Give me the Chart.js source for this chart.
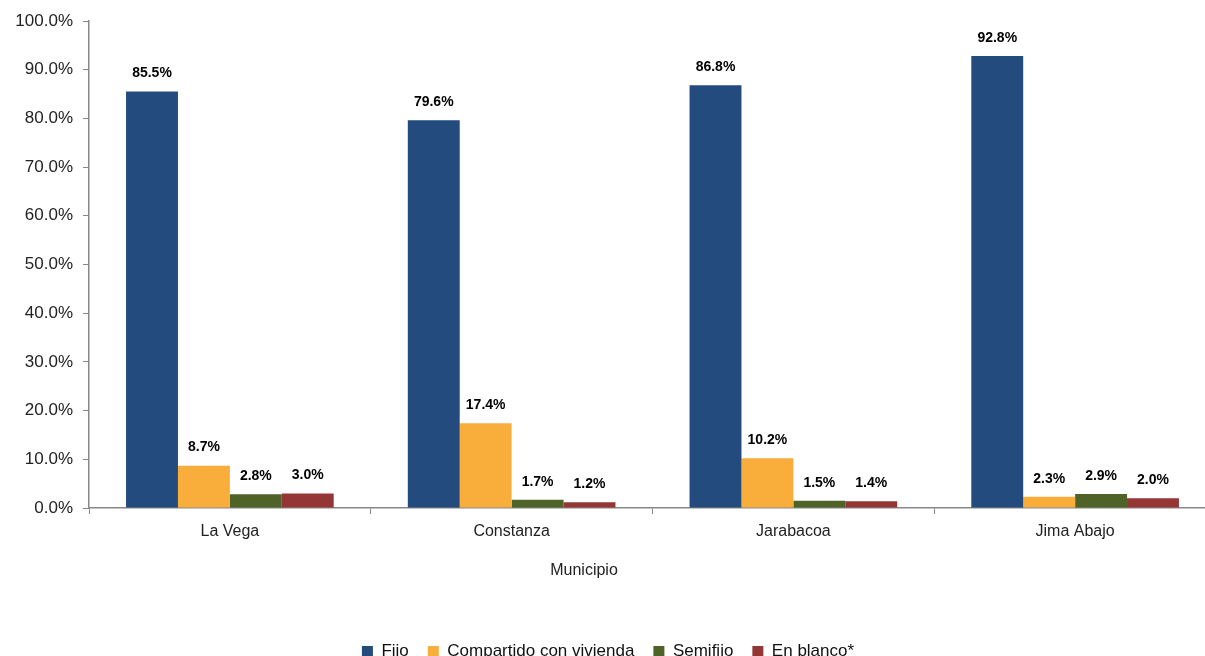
<!DOCTYPE html>
<html>
<head>
<meta charset="utf-8">
<script src="https://cdn.jsdelivr.net/npm/chart.js@4/dist/chart.umd.min.js"></script>
<style>
  html, body { margin: 0; padding: 0; background: #fff; overflow: hidden; }
  #wrap { width: 1220px; height: 670px; }
</style>
</head>
<body>
<div id="wrap"><canvas id="chart"></canvas></div>
<script>
// ---- data ----
const municipios = ["La Vega", "Constanza", "Jarabacoa", "Jima Abajo"];
const fijo = [85.5, 79.6, 86.8, 92.8];
const compartido = [8.7, 17.4, 10.2, 2.3];
const semifijo = [2.8, 1.7, 1.5, 2.9];
const enBlanco = [3.0, 1.2, 1.4, 2.0];
const seriesNames = ["Fijo", "Compartido con vivienda", "Semifijo", "En blanco*"];
const seriesColors = ["#234B7D", "#F9AE3B", "#4F6228", "#943634"];
const axisTitle = "Municipio";

const FONT = "'Liberation Sans', Arial, sans-serif";

// draws the value above each bar, plus the x axis title (sits left of centre in the original)
const valueLabels = {
  id: "valueLabels",
  afterDatasetsDraw(chart) {
    const ctx = chart.ctx;
    ctx.save();
    ctx.font = "bold 14px " + FONT;
    ctx.fillStyle = "#000";
    ctx.textAlign = "center";
    ctx.textBaseline = "middle";
    chart.data.datasets.forEach((ds, i) => {
      chart.getDatasetMeta(i).data.forEach((bar, j) => {
        ctx.fillText(ds.data[j].toFixed(1) + "%", bar.x, bar.y - 18);
      });
    });
    ctx.font = "16px " + FONT;
    ctx.fillStyle = "#222";
    ctx.fillText(axisTitle, 584, chart.chartArea.bottom + 63);
    ctx.restore();
  }
};

const allSeries = [fijo, compartido, semifijo, enBlanco];

new Chart(document.getElementById("chart"), {
  type: "bar",
  data: {
    labels: municipios,
    datasets: allSeries.map((d, i) => ({
      label: seriesNames[i],
      data: d,
      backgroundColor: seriesColors[i],
      borderWidth: 0,
      categoryPercentage: 0.737,
      barPercentage: 1.0,
    })),
  },
  options: {
    responsive: true,
    maintainAspectRatio: false,
    animation: false,
    layout: { padding: { top: 21, right: 4, left: 0, bottom: 0 } },
    plugins: {
      legend: {
        position: "bottom",
        labels: {
          color: "#111",
          font: { family: FONT, size: 17 },
          boxWidth: 11,
          boxHeight: 11,
          padding: 19,
        },
      },
      tooltip: { enabled: false },
    },
    scales: {
      x: {
        ticks: { color: "#222", font: { family: FONT, size: 16 }, padding: 8 },
        grid: { drawOnChartArea: false, tickLength: 6, color: "#888" },
        border: { color: "#888", width: 1.5 },
        afterFit(scale) { scale.height = 116; },
      },
      y: {
        min: 0,
        max: 100,
        ticks: {
          stepSize: 10,
          color: "#222",
          font: { family: FONT, size: 17 },
          padding: 10,
          callback: v => v.toFixed(1) + "%",
        },
        grid: { drawOnChartArea: false, tickLength: 6, color: "#888" },
        border: { color: "#888", width: 1.5 },
        afterFit(scale) { scale.width = 89; },
      },
    },
  },
  plugins: [valueLabels],
});
</script>
</body>
</html>
